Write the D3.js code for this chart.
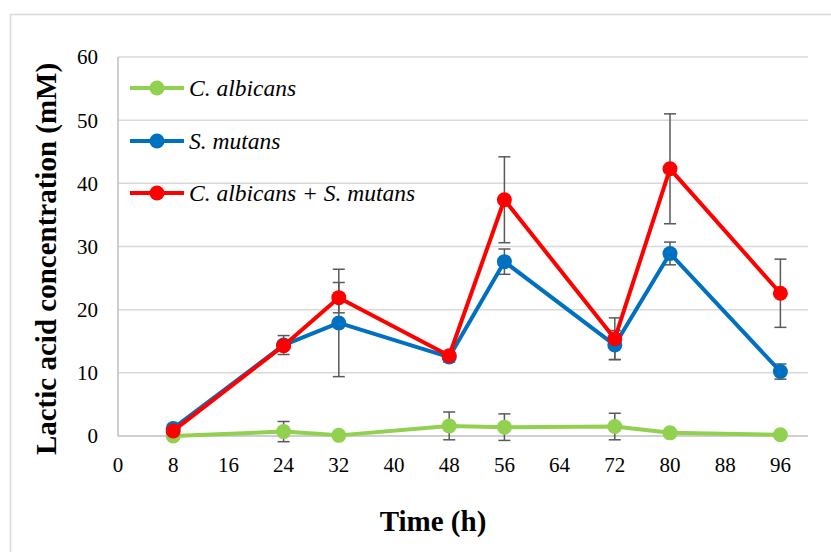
<!DOCTYPE html>
<html>
<head>
<meta charset="utf-8">
<script src="https://cdn.jsdelivr.net/npm/d3@7"></script>
<style>
  body { margin:0; background:#fff; }
  svg text { font-family:"Liberation Serif","Times New Roman",serif; fill:#000; }
</style>
</head>
<body>
<div id="chart_container"></div>
<script>
// Time points (h) and values (mM).
var time_array          = [8, 24, 32, 48, 56, 72, 80, 96];
var albicans_array      = [0.0, 0.7, 0.1, 1.6, 1.4, 1.5, 0.5, 0.2];
var albicans_err_array  = [0.0, 1.6, 0.0, 2.2, 2.1, 2.1, 0.0, 0.0];
var mutans_array        = [1.2, 14.4, 17.9, 12.5, 27.6, 14.4, 28.9, 10.2];
var mutans_err_array    = [0.0, 1.5, 8.5, 0.8, 2.0, 2.3, 1.8, 1.2];
var mixed_array         = [0.8, 14.3, 21.9, 12.7, 37.4, 15.4, 42.3, 22.6];
var mixed_err_array     = [0.0, 0.0, 2.4, 0.0, 6.8, 3.3, 8.7, 5.4];
var x_tick_array        = [0, 8, 16, 24, 32, 40, 48, 56, 64, 72, 80, 88, 96];
var y_tick_array        = [0, 10, 20, 30, 40, 50, 60];
var series_name_array   = ["C. albicans", "S. mutans", "C. albicans + S. mutans"];
var series_color_array  = ["#92d050", "#0070c0", "#ff0000"];

var dimension = { height:552, width:831 };
var plot      = { left:118, right:808, top:57, bottom:436 };

var scale_x = d3.scaleLinear().domain([0, 100]).range([plot.left, plot.right]);
var scale_y = d3.scaleLinear().domain([0, 60]).range([plot.bottom, plot.top]);

var svg = d3.select("#chart_container").append("svg")
  .attr("height", dimension.height)
  .attr("width", dimension.width);

// Chart area border.
svg.append("rect")
  .attr("x", 10.5)
  .attr("y", 14.5)
  .attr("width", 840)
  .attr("height", 560)
  .style("fill", "none")
  .style("stroke", "#d9d9d9")
  .style("stroke-width", 1.5);

// Horizontal gridlines.
svg.append("g")
  .selectAll("line")
  .data(y_tick_array.filter(function (d) { return d > 0; }))
  .enter().append("line")
  .attr("x1", plot.left)
  .attr("x2", plot.right)
  .attr("y1", function (d) { return scale_y(d); })
  .attr("y2", function (d) { return scale_y(d); })
  .style("stroke", "#d9d9d9")
  .style("stroke-width", 1.5);

// Axis lines.
svg.append("line")
  .attr("x1", plot.left).attr("x2", plot.right)
  .attr("y1", scale_y(0)).attr("y2", scale_y(0))
  .style("stroke", "#bfbfbf").style("stroke-width", 1.5);
svg.append("line")
  .attr("x1", plot.left).attr("x2", plot.left)
  .attr("y1", scale_y(0)).attr("y2", scale_y(60))
  .style("stroke", "#bfbfbf").style("stroke-width", 1.5);

// Tick labels.
svg.append("g")
  .selectAll("text")
  .data(y_tick_array)
  .enter().append("text")
  .attr("x", 98)
  .attr("y", function (d) { return scale_y(d); })
  .attr("dy", "0.35em")
  .attr("text-anchor", "end")
  .style("font-size", "21px")
  .text(function (d) { return d; });
svg.append("g")
  .selectAll("text")
  .data(x_tick_array)
  .enter().append("text")
  .attr("x", function (d) { return scale_x(d); })
  .attr("y", 465)
  .attr("dy", "0.35em")
  .attr("text-anchor", "middle")
  .style("font-size", "21px")
  .text(function (d) { return d; });

// Axis titles.
svg.append("text")
  .attr("x", 433)
  .attr("y", 521)
  .attr("dy", "0.35em")
  .attr("text-anchor", "middle")
  .style("font-size", "29px")
  .style("font-weight", "bold")
  .text("Time (h)");
svg.append("text")
  .attr("transform", "translate(46,259) rotate(-90)")
  .attr("dy", "0.35em")
  .attr("text-anchor", "middle")
  .style("font-size", "29px")
  .style("font-weight", "bold")
  .text("Lactic acid concentration (mM)");

var series_array = [
  { value:albicans_array, err:albicans_err_array },
  { value:mutans_array,   err:mutans_err_array },
  { value:mixed_array,    err:mixed_err_array }
];

// Error bars sit below the lines and markers.
var err_group = svg.append("g");
series_array.forEach(function (s) {
  time_array.forEach(function (t, i) {
    if (s.err[i] <= 0) return;
    var x  = scale_x(t);
    var y1 = scale_y(s.value[i] - s.err[i]);
    var y2 = scale_y(s.value[i] + s.err[i]);
    err_group.append("line")
      .attr("x1", x).attr("x2", x).attr("y1", y1).attr("y2", y2)
      .style("stroke", "#595959").style("stroke-width", 1.5);
    [y1, y2].forEach(function (y) {
      err_group.append("line")
        .attr("x1", x - 6).attr("x2", x + 6).attr("y1", y).attr("y2", y)
        .style("stroke", "#595959").style("stroke-width", 1.5);
    });
  });
});

var line_gen = d3.line()
  .x(function (d) { return scale_x(d[0]); })
  .y(function (d) { return scale_y(d[1]); });

series_array.forEach(function (s, k) {
  var points = time_array.map(function (t, i) { return [t, s.value[i]]; });
  svg.append("path")
    .datum(points)
    .attr("d", line_gen)
    .style("fill", "none")
    .style("stroke", series_color_array[k])
    .style("stroke-width", 4)
    .style("stroke-linejoin", "round");
  svg.append("g")
    .selectAll("circle")
    .data(points)
    .enter().append("circle")
    .attr("cx", function (d) { return scale_x(d[0]); })
    .attr("cy", function (d) { return scale_y(d[1]); })
    .attr("r", 7.5)
    .style("fill", series_color_array[k]);
});

// Legend.
var legend_y_array = [88, 141, 193];
series_name_array.forEach(function (name, k) {
  var g = svg.append("g");
  g.append("line")
    .attr("x1", 130).attr("x2", 184)
    .attr("y1", legend_y_array[k]).attr("y2", legend_y_array[k])
    .style("stroke", series_color_array[k])
    .style("stroke-width", 4);
  g.append("circle")
    .attr("cx", 157).attr("cy", legend_y_array[k]).attr("r", 7.5)
    .style("fill", series_color_array[k]);
  g.append("text")
    .attr("x", 189)
    .attr("y", legend_y_array[k])
    .attr("dy", "0.35em")
    .style("font-size", "23.5px")
    .style("font-style", "italic")
    .text(name);
});
</script>
</body>
</html>
